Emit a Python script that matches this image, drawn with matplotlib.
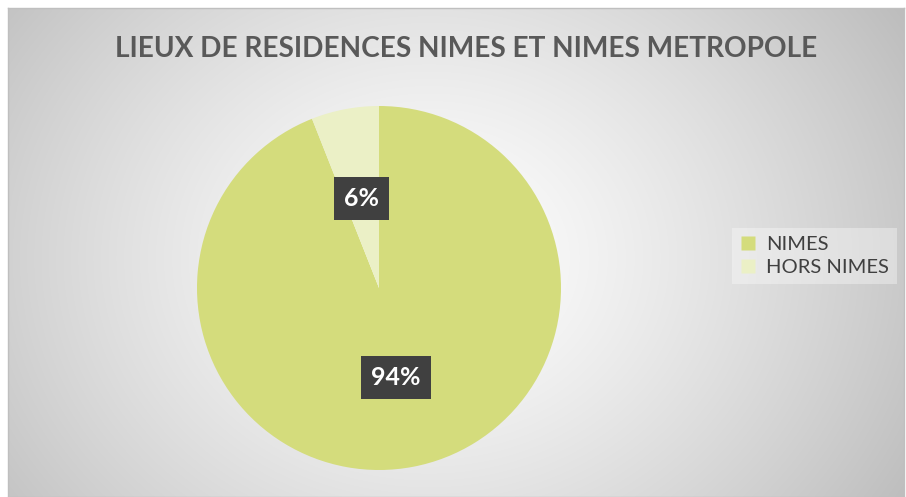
import numpy as np
import matplotlib
matplotlib.use('Agg')
import matplotlib.pyplot as plt
from matplotlib.lines import Line2D

categories = ['NIMES', 'HORS NIMES']
parts = [94, 6]
cores = ['#d4dc7c', '#ebf0c6']

plt.rcParams['font.family'] = ['Lato', 'DejaVu Sans']

fig = plt.figure(figsize=(9.06, 4.97), dpi=100)
fig.patch.set_facecolor('white')

# fond en dégradé radial
bg = fig.add_axes([8 / 906, 0, 896 / 906, 489 / 497])
h, w = 489, 896
yy, xx = np.mgrid[0:h, 0:w]
d = np.sqrt(((xx - 420) / 560.0) ** 2 + ((yy - 250) / 470.0) ** 2)
v = 1.0 - 0.26 * np.clip(d, 0, 1) ** 1.3
img = np.dstack([v, v, v])
bg.imshow(img, aspect='auto', extent=[0, 1, 0, 1])
bg.set_xlim(0, 1)
bg.set_ylim(0, 1)
for s in bg.spines.values():
    s.set_color('#bfbfbf')
    s.set_linewidth(1)
bg.set_xticks([])
bg.set_yticks([])

# camembert
ax = fig.add_axes([(379 - 182) / 906, (497 - 288 - 182) / 497, 364 / 906, 364 / 497])
ax.set_facecolor('none')
wedges, _ = ax.pie(parts, colors=cores, startangle=90, counterclock=False,
                   radius=1.0, wedgeprops=dict(linewidth=0))
ax.set_xlim(-1, 1)
ax.set_ylim(-1, 1)
ax.set_aspect('equal')

for wdg, p in zip(wedges, parts):
    ang = np.deg2rad((wdg.theta1 + wdg.theta2) / 2)
    r = 0.5
    ax.text(r * np.cos(ang), r * np.sin(ang), f'{p}%', ha='center', va='center',
            fontsize=18, fontweight='bold', color='white',
            bbox=dict(boxstyle='square,pad=0.4', facecolor='#404040', edgecolor='none'))

fig.text(466 / 906, 1 - 49 / 497, 'LIEUX DE RESIDENCES NIMES ET NIMES METROPOLE',
         ha='center', va='center', fontsize=20.2, fontweight='bold', color='#595959')

handles = [Line2D([], [], marker='s', linestyle='none', markersize=10,
                  markerfacecolor=c, markeredgecolor='none') for c in cores]
leg = fig.legend(handles, categories, loc='center left',
                 bbox_to_anchor=(732 / 906, 1 - 256 / 497), frameon=True,
                 borderaxespad=0, fontsize=14.5, handlelength=0.8,
                 handletextpad=0.5, labelspacing=0.25, borderpad=0.4,
                 fancybox=False, labelcolor='#404040')
leg.get_frame().set_facecolor('white')
leg.get_frame().set_alpha(0.35)
leg.get_frame().set_edgecolor('none')

fig.savefig('out.png', dpi=100)
